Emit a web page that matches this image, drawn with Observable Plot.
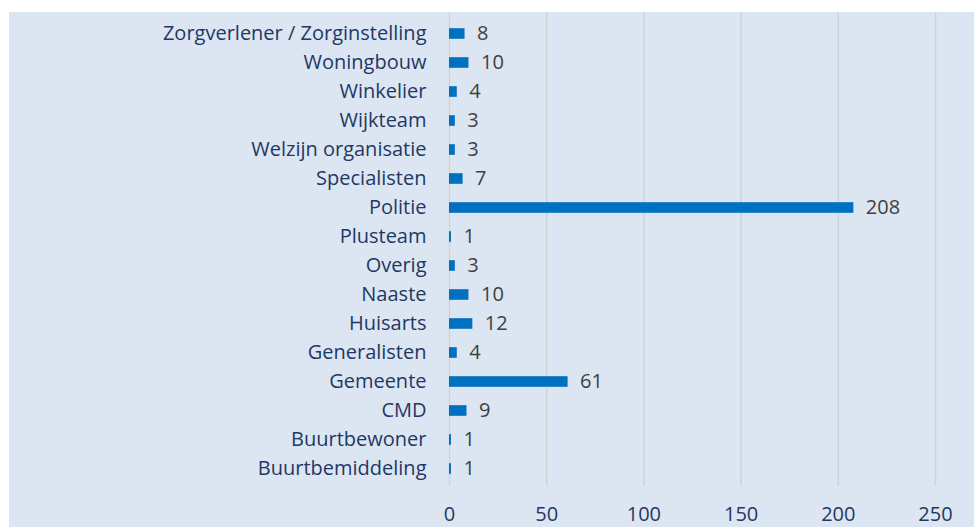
<!DOCTYPE html>
<html>
<head>
<meta charset="utf-8">
<script src="https://cdn.jsdelivr.net/npm/d3@7"></script>
<script src="https://cdn.jsdelivr.net/npm/@observablehq/plot@0.6"></script>
<style>
  html, body { margin: 0; padding: 0; background: #ffffff; }
  #chart { position: absolute; left: 9px; top: 12px; width: 965px; height: 515px; background: #dce6f2; overflow: hidden; }
  #chart svg { display: block; }
</style>
</head>
<body>
<div id="chart"></div>
<script>
const categories = ["Zorgverlener / Zorginstelling","Woningbouw","Winkelier","Wijkteam","Welzijn organisatie","Specialisten","Politie","Plusteam","Overig","Naaste","Huisarts","Generalisten","Gemeente","CMD","Buurtbewoner","Buurtbemiddeling"];
const counts = [8, 10, 4, 3, 3, 7, 208, 1, 3, 10, 12, 4, 61, 9, 1, 1];
const xTicks = [0, 50, 100, 150, 200, 250];

const data = categories.map((c, i) => ({cat: c, count: counts[i]}));
const FONT = "'Open Sans', Lato, sans-serif";
const FS = 20;

const chart = Plot.plot({
  width: 965,
  height: 515,
  marginLeft: 440,
  marginRight: 39,
  marginTop: 0,
  marginBottom: 41,
  style: {background: "transparent", fontFamily: FONT, fontSize: FS + "px"},
  x: {domain: [0, 250]},
  y: {domain: categories, range: [4.33, 473.67], padding: 0},
  marks: [
    Plot.ruleX(xTicks, {x: d => d, stroke: "#d2d2d2", strokeWidth: 1.5}),
    Plot.barX(data, {x: "count", y: "cat", fill: "#0070c0", insetTop: 9.2, insetBottom: 9.2}),
    Plot.text(data, {x: "count", y: "cat", text: d => String(d.count), textAnchor: "start", dx: 12, fill: "#404040", fontSize: FS}),
    Plot.axisX({ticks: xTicks, tickSize: 0, tickPadding: 20, fill: "#1f3864", fontSize: FS, label: null}),
    Plot.axisY({tickSize: 0, tickPadding: 23, fill: "#1f3864", fontSize: FS, label: null})
  ]
});
document.getElementById("chart").appendChild(chart);
</script>
</body>
</html>
